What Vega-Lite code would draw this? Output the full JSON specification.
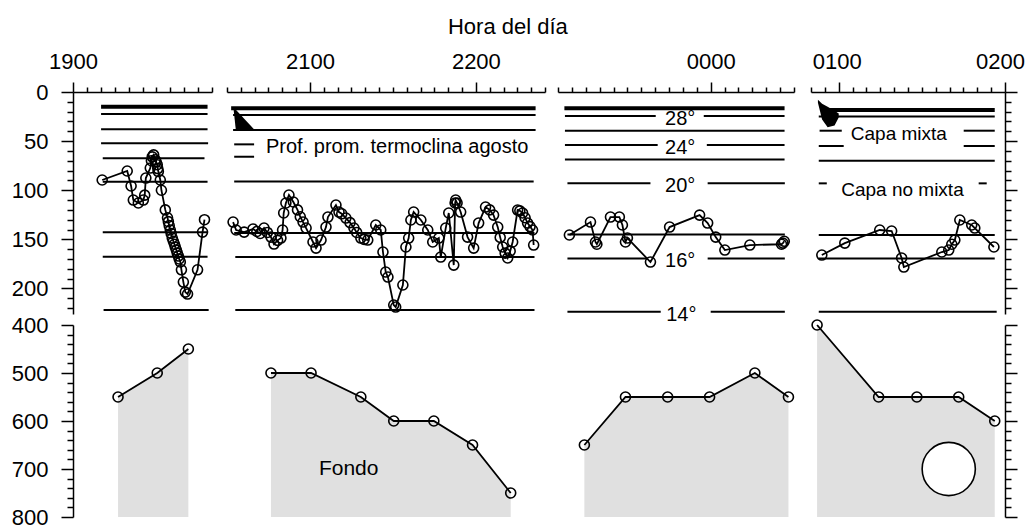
{
  "$schema": "https://vega.github.io/schema/vega-lite/v6.json",
  "background": "white",
  "padding": {"left": 11, "top": 16, "right": 5, "bottom": 5},
  "title": {"text": "Hora del día", "fontSize": 22, "font": "Liberation Sans", "fontWeight": "normal", "color": "black", "anchor": "middle", "offset": 11, "dx": -10},
  "datasets": {
    "iso": [
      {"p":1,"d":15,"t0":10.1,"t1":48.4,"k":"thick"},
      {"p":1,"d":22.4,"t0":10.1,"t1":48.4,"k":"thin"},
      {"p":1,"d":38,"t0":10.1,"t1":48.4,"k":"thin"},
      {"p":1,"d":52.2,"t0":10.1,"t1":48.6,"k":"thin"},
      {"p":1,"d":67.5,"t0":10.7,"t1":47.3,"k":"thin"},
      {"p":1,"d":91.3,"t0":10.7,"t1":48.4,"k":"thin"},
      {"p":1,"d":142.9,"t0":10.7,"t1":48.4,"k":"thin"},
      {"p":1,"d":167.7,"t0":10.7,"t1":48.4,"k":"thin"},
      {"p":1,"d":222,"t0":11,"t1":48.8,"k":"thin"},
      {"p":2,"d":16.6,"t0":91.5,"t1":201.6,"k":"thick"},
      {"p":2,"d":23.4,"t0":92.2,"t1":201.6,"k":"thin"},
      {"p":2,"d":38.7,"t0":92.2,"t1":201.6,"k":"thin"},
      {"p":2,"d":53.3,"t0":92.6,"t1":99.8,"k":"thin"},
      {"p":2,"d":65.9,"t0":92.6,"t1":99.8,"k":"thin"},
      {"p":2,"d":91,"t0":92.6,"t1":200.9,"k":"thin"},
      {"p":2,"d":143.6,"t0":92.6,"t1":201.2,"k":"thin"},
      {"p":2,"d":168,"t0":93,"t1":201.2,"k":"thin"},
      {"p":2,"d":222,"t0":93,"t1":201.2,"k":"thin"},
      {"p":3,"d":16.6,"t0":247.3,"t1":326.6,"k":"thick"},
      {"p":3,"d":24.4,"t0":247.5,"t1":280.2,"k":"thin"},
      {"p":3,"d":24.4,"t0":297.5,"t1":326.6,"k":"thin"},
      {"p":3,"d":39.4,"t0":247.5,"t1":326.6,"k":"thin"},
      {"p":3,"d":54,"t0":247.5,"t1":280.9,"k":"thin"},
      {"p":3,"d":54,"t0":298.6,"t1":326.6,"k":"thin"},
      {"p":3,"d":68.6,"t0":247.5,"t1":326.6,"k":"thin"},
      {"p":3,"d":93,"t0":248.4,"t1":278.3,"k":"thin"},
      {"p":3,"d":93,"t0":298.9,"t1":326.7,"k":"thin"},
      {"p":3,"d":145,"t0":248.4,"t1":326.7,"k":"thin"},
      {"p":3,"d":169.4,"t0":248.4,"t1":277.3,"k":"thin"},
      {"p":3,"d":169.4,"t0":298.9,"t1":326.7,"k":"thin"},
      {"p":3,"d":223.7,"t0":248.4,"t1":282,"k":"thin"},
      {"p":3,"d":223.7,"t0":300,"t1":326.7,"k":"thin"},
      {"p":4,"d":18.3,"t0":353.9,"t1":416.3,"k":"thick"},
      {"p":4,"d":25,"t0":352.8,"t1":416.3,"k":"thin"},
      {"p":4,"d":39.4,"t0":353.1,"t1":361.1,"k":"thin"},
      {"p":4,"d":39.4,"t0":405.1,"t1":416.3,"k":"thin"},
      {"p":4,"d":55,"t0":352.8,"t1":361.8,"k":"thin"},
      {"p":4,"d":55,"t0":405.1,"t1":416.3,"k":"thin"},
      {"p":4,"d":70,"t0":352.8,"t1":416.3,"k":"thin"},
      {"p":4,"d":93,"t0":352.8,"t1":355.7,"k":"thin"},
      {"p":4,"d":93,"t0":410.5,"t1":413.4,"k":"thin"},
      {"p":4,"d":145.6,"t0":352.8,"t1":416.3,"k":"thin"},
      {"p":4,"d":169.4,"t0":352.8,"t1":416.3,"k":"thin"},
      {"p":4,"d":223.7,"t0":352.8,"t1":417,"k":"thin"}
    ],
    "track": [
      {"p":1,"t":10.5,"d":89.6},{"p":1,"t":19.5,"d":80.4},{"p":1,"t":20.9,"d":95.7},{"p":1,"t":21.7,"d":110},
      {"p":1,"t":23.5,"d":113},{"p":1,"t":25.3,"d":110},{"p":1,"t":25.8,"d":105},{"p":1,"t":26.2,"d":87.6},
      {"p":1,"t":27.8,"d":77.4},{"p":1,"t":28.2,"d":70},{"p":1,"t":28.5,"d":66},{"p":1,"t":29,"d":64},
      {"p":1,"t":29.6,"d":69},{"p":1,"t":29.9,"d":71},{"p":1,"t":30.3,"d":74},{"p":1,"t":30.5,"d":78},
      {"p":1,"t":30.7,"d":81},{"p":1,"t":31.4,"d":89.6},{"p":1,"t":31.8,"d":100},{"p":1,"t":33.2,"d":120},
      {"p":1,"t":34,"d":128},{"p":1,"t":34.3,"d":132},{"p":1,"t":34.6,"d":136},{"p":1,"t":35,"d":140.5},
      {"p":1,"t":35.3,"d":144},{"p":1,"t":35.7,"d":148.7},{"p":1,"t":36.1,"d":152},{"p":1,"t":36.5,"d":155},
      {"p":1,"t":36.8,"d":158},{"p":1,"t":37.2,"d":161},{"p":1,"t":37.5,"d":164},{"p":1,"t":37.9,"d":167},
      {"p":1,"t":38.2,"d":170},{"p":1,"t":38.6,"d":173},{"p":1,"t":39,"d":181},{"p":1,"t":39.7,"d":193.5},
      {"p":1,"t":40.4,"d":203.7},{"p":1,"t":41.2,"d":205.7},{"p":1,"t":44.8,"d":181},{"p":1,"t":46.6,"d":142.6},
      {"p":1,"t":47.3,"d":130},
      {"p":2,"t":92.2,"d":132.4},{"p":2,"t":93.3,"d":140.5},{"p":2,"t":96.2,"d":142.6},{"p":2,"t":99.4,"d":139.5},
      {"p":2,"t":100.8,"d":142},{"p":2,"t":102,"d":144},{"p":2,"t":103.4,"d":138.5},{"p":2,"t":104.6,"d":143},
      {"p":2,"t":105.9,"d":147.7},{"p":2,"t":107,"d":154.8},{"p":2,"t":108.3,"d":151},{"p":2,"t":109.5,"d":148.7},
      {"p":2,"t":110.1,"d":140.5},{"p":2,"t":110.5,"d":123.2},{"p":2,"t":111.3,"d":113},{"p":2,"t":112.4,"d":104.9},
      {"p":2,"t":114,"d":112},{"p":2,"t":115.5,"d":120},{"p":2,"t":116.5,"d":127},{"p":2,"t":117.5,"d":132.4},
      {"p":2,"t":118.6,"d":138.5},{"p":2,"t":121.1,"d":152.7},{"p":2,"t":122.2,"d":158.9},{"p":2,"t":124,"d":150.7},
      {"p":2,"t":125.8,"d":137.5},{"p":2,"t":126.5,"d":127.3},{"p":2,"t":129.4,"d":115.1},{"p":2,"t":130.5,"d":122.2},
      {"p":2,"t":131.5,"d":124},{"p":2,"t":133,"d":128.3},{"p":2,"t":134.5,"d":133},{"p":2,"t":135.9,"d":138.5},
      {"p":2,"t":136.9,"d":143},{"p":2,"t":138.4,"d":148.7},{"p":2,"t":139.6,"d":150},{"p":2,"t":140.9,"d":150.7},
      {"p":2,"t":143.8,"d":135.4},{"p":2,"t":145.6,"d":140.5},{"p":2,"t":146.4,"d":162.9},{"p":2,"t":147.4,"d":183.3},
      {"p":2,"t":148.2,"d":188.4},{"p":2,"t":150.3,"d":216.9},{"p":2,"t":151,"d":218.9},{"p":2,"t":153.6,"d":196.5},
      {"p":2,"t":154.7,"d":157.8},{"p":2,"t":155.7,"d":148.7},{"p":2,"t":156.5,"d":130.3},{"p":2,"t":157.5,"d":122.2},
      {"p":2,"t":160.1,"d":130.3},{"p":2,"t":162.6,"d":140.5},{"p":2,"t":164.4,"d":152.7},{"p":2,"t":166.6,"d":148.7},
      {"p":2,"t":167.3,"d":168},{"p":2,"t":169.1,"d":138.5},{"p":2,"t":170.2,"d":123.2},{"p":2,"t":172,"d":176.2},
      {"p":2,"t":172.5,"d":113},{"p":2,"t":172.7,"d":110},{"p":2,"t":173.2,"d":113},{"p":2,"t":174.5,"d":122.2},
      {"p":2,"t":177,"d":147.7},{"p":2,"t":179.2,"d":158.9},{"p":2,"t":181,"d":133.4},{"p":2,"t":183.5,"d":117.1},
      {"p":2,"t":185,"d":120},{"p":2,"t":186.4,"d":125.3},{"p":2,"t":187.9,"d":137.5},{"p":2,"t":188.8,"d":148},
      {"p":2,"t":189.7,"d":157.8},{"p":2,"t":190.6,"d":164},{"p":2,"t":191.5,"d":169},{"p":2,"t":192.4,"d":162},
      {"p":2,"t":193.3,"d":152.7},{"p":2,"t":195.1,"d":120.2},{"p":2,"t":195.9,"d":121},{"p":2,"t":196.9,"d":123.2},
      {"p":2,"t":197.8,"d":128},{"p":2,"t":198.7,"d":133.4},{"p":2,"t":199.6,"d":137},{"p":2,"t":200.5,"d":140.5},
      {"p":2,"t":200.9,"d":155.8},
      {"p":3,"t":249.1,"d":145.6},{"p":3,"t":256.7,"d":132.4},{"p":3,"t":258.5,"d":152.7},{"p":3,"t":259,"d":155},
      {"p":3,"t":263.9,"d":127.3},{"p":3,"t":267.1,"d":127.3},{"p":3,"t":268.2,"d":135.4},{"p":3,"t":269.3,"d":152.7},
      {"p":3,"t":270,"d":148.7},{"p":3,"t":278.3,"d":173.1},{"p":3,"t":285.2,"d":137.5},{"p":3,"t":296,"d":125.3},
      {"p":3,"t":298.9,"d":133.4},{"p":3,"t":301.8,"d":147.7},{"p":3,"t":305.1,"d":160.9},{"p":3,"t":314.1,"d":155.8},
      {"p":3,"t":325.5,"d":155},{"p":3,"t":326,"d":153.8},{"p":3,"t":326.5,"d":152},
      {"p":4,"t":353.9,"d":166},{"p":4,"t":362.2,"d":153.8},{"p":4,"t":374.8,"d":140.5},{"p":4,"t":379.1,"d":141.5},
      {"p":4,"t":382.7,"d":169},{"p":4,"t":383.5,"d":178.2},{"p":4,"t":397.2,"d":162.9},{"p":4,"t":399.7,"d":160.9},
      {"p":4,"t":400.8,"d":155},{"p":4,"t":401.9,"d":150.7},{"p":4,"t":403.7,"d":130.3},{"p":4,"t":408,"d":135.4},
      {"p":4,"t":409.1,"d":138.5},{"p":4,"t":416,"d":157.8}
    ],
    "blob": [
      {"p":2,"t":92.4,"top":16,"bot":18},{"p":2,"t":93.2,"top":18,"bot":39},{"p":2,"t":99.6,"top":37.5,"bot":39.5},
      {"p":4,"t":352.5,"top":8,"bot":11},{"p":4,"t":354,"top":12,"bot":28},{"p":4,"t":356,"top":15,"bot":36},
      {"p":4,"t":358.5,"top":19,"bot":34},{"p":4,"t":360,"top":22,"bot":26}
    ],
    "bottom": [
      {"p":1,"t":16.2,"d":550},{"p":1,"t":30.3,"d":500},{"p":1,"t":41.5,"d":450},
      {"p":2,"t":105.9,"d":500},{"p":2,"t":120.4,"d":500},{"p":2,"t":138.4,"d":550},{"p":2,"t":150.3,"d":600},
      {"p":2,"t":164.8,"d":600},{"p":2,"t":178.8,"d":650},{"p":2,"t":192.6,"d":750},
      {"p":3,"t":254.5,"d":650},{"p":3,"t":269.3,"d":550},{"p":3,"t":284.5,"d":550},{"p":3,"t":299.6,"d":550},
      {"p":3,"t":315.9,"d":500},{"p":3,"t":328,"d":550},
      {"p":4,"t":352.2,"d":400},{"p":4,"t":374.4,"d":550},{"p":4,"t":388.2,"d":550},{"p":4,"t":403.3,"d":550},
      {"p":4,"t":416.3,"d":600}
    ],
    "templabels": [
      {"t":289,"d":24.4,"text":"28°"},{"t":289,"d":54,"text":"24°"},{"t":289,"d":93,"text":"20°"},
      {"t":289,"d":169.4,"text":"16°"},{"t":289.4,"d":223.7,"text":"14°"}
    ],
    "notes": [
      {"p":2,"t":104.1,"d":56,"text":"Prof. prom. termoclina agosto","a":"left"},
      {"p":4,"t":381.7,"d":43,"text":"Capa mixta","a":"center"},
      {"p":4,"t":383,"d":100,"text":"Capa no mixta","a":"center"}
    ],
    "fondo": [{"p":2,"t":134,"d":700,"text":"Fondo"}],
    "moon": [{"p":4,"t":399.7,"d":700}]
  },
  "spacing": 11,
  "hconcat": [
    {
      "spacing": 11,
      "bounds": "flush",
      "vconcat": [
        {
          "width": 139, "height": 222,
          "layer": [
            {"data": {"name": "iso"}, "transform": [{"filter": "datum.p == 1"}],
             "mark": {"type": "rule", "color": "black"},
             "encoding": {
               "x": {"field": "t0", "type": "quantitative", "scale": {"domain": [0, 50], "nice": false, "zero": false},
                     "axis": {"orient": "top", "values": [0,5,10,15,20,25,30,35,40,45,50], "tickCount": 200, "labelExpr": "datum.value % 60 == 0 ? format(((19 + datum.value/60) % 24) * 100, '04d') : ''", "tickSize": {"condition": {"test": "datum.value % 60 == 0", "value": 10}, "value": 5}, "labelPadding": 9, "labelFlush": false, "labelOverlap": false, "title": null}},
               "x2": {"field": "t1"},
               "y": {"field": "d", "type": "quantitative", "scale": {"domain": [0, 226], "reverse": true, "nice": false, "zero": false},
                     "axis": {"orient": "left", "values": [0,10,20,30,40,50,60,70,80,90,100,110,120,130,140,150,160,170,180,190,200,210,220], "tickCount": 200, "labelExpr": "datum.value % 50 == 0 ? datum.label : ''", "tickSize": {"condition": {"test": "datum.value % 50 == 0", "value": 12}, "value": 6}, "labelPadding": 13, "labelOverlap": false, "title": null}},
               "strokeWidth": {"field": "k", "type": "nominal", "scale": {"domain": ["thick", "thin"], "range": [4, 2]}, "legend": null}
             }},
            {"data": {"name": "track"}, "transform": [{"filter": "datum.p == 1"}],
             "mark": {"type": "line", "color": "black", "strokeWidth": 1.8},
             "encoding": {"x": {"field": "t", "type": "quantitative"}, "y": {"field": "d", "type": "quantitative"}}},
            {"data": {"name": "track"}, "transform": [{"filter": "datum.p == 1"}],
             "mark": {"type": "point", "shape": "circle", "filled": false, "stroke": "black", "strokeWidth": 1.6, "size": 100, "opacity": 1},
             "encoding": {"x": {"field": "t", "type": "quantitative"}, "y": {"field": "d", "type": "quantitative"}}}
          ]
        },
        {
          "width": 139, "height": 192,
          "layer": [
            {"data": {"name": "bottom"}, "transform": [{"filter": "datum.p == 1"}],
             "mark": {"type": "area", "color": "#e0e0e0"},
             "encoding": {
               "x": {"field": "t", "type": "quantitative", "scale": {"domain": [0, 50], "nice": false, "zero": false}, "axis": null},
               "y": {"field": "d", "type": "quantitative", "scale": {"domain": [400, 800], "reverse": true, "nice": false, "zero": false},
                     "axis": {"orient": "left", "values": [400,420,440,460,480,500,520,540,560,580,600,620,640,660,680,700,720,740,760,780,800], "tickCount": 200, "labelExpr": "datum.value % 100 == 0 ? datum.label : ''", "tickSize": {"condition": {"test": "datum.value % 100 == 0", "value": 12}, "value": 6}, "labelPadding": 13, "labelOverlap": false, "title": null}},
               "y2": {"datum": 800}
             }},
            {"data": {"name": "bottom"}, "transform": [{"filter": "datum.p == 1"}],
             "mark": {"type": "line", "color": "black", "strokeWidth": 1.8},
             "encoding": {"x": {"field": "t", "type": "quantitative"}, "y": {"field": "d", "type": "quantitative"}}},
            {"data": {"name": "bottom"}, "transform": [{"filter": "datum.p == 1"}],
             "mark": {"type": "point", "shape": "circle", "filled": false, "stroke": "black", "strokeWidth": 1.6, "size": 100, "opacity": 1},
             "encoding": {"x": {"field": "t", "type": "quantitative"}, "y": {"field": "d", "type": "quantitative"}}}
          ]
        }
      ]
    },
    {
      "spacing": 11,
      "bounds": "flush",
      "vconcat": [
        {
          "width": 318, "height": 222,
          "layer": [
            {"data": {"name": "iso"}, "transform": [{"filter": "datum.p == 2"}],
             "mark": {"type": "rule", "color": "black"},
             "encoding": {
               "x": {"field": "t0", "type": "quantitative", "scale": {"domain": [90, 205], "nice": false, "zero": false},
                     "axis": {"orient": "top", "values": [90,95,100,105,110,115,120,125,130,135,140,145,150,155,160,165,170,175,180,185,190,195,200,205], "tickCount": 200, "labelExpr": "datum.value % 60 == 0 ? format(((19 + datum.value/60) % 24) * 100, '04d') : ''", "tickSize": {"condition": {"test": "datum.value % 60 == 0", "value": 10}, "value": 5}, "labelPadding": 9, "labelFlush": false, "labelOverlap": false, "title": null}},
               "x2": {"field": "t1"},
               "y": {"field": "d", "type": "quantitative", "scale": {"domain": [0, 226], "reverse": true, "nice": false, "zero": false}, "axis": null},
               "strokeWidth": {"field": "k", "type": "nominal", "scale": {"domain": ["thick", "thin"], "range": [4, 2]}, "legend": null}
             }},
            {"data": {"name": "blob"}, "transform": [{"filter": "datum.p == 2"}],
             "mark": {"type": "area", "color": "black"},
             "encoding": {"x": {"field": "t", "type": "quantitative"}, "y": {"field": "top", "type": "quantitative"}, "y2": {"field": "bot"}}},
            {"data": {"name": "notes"}, "transform": [{"filter": "datum.p == 2"}],
             "mark": {"type": "text", "align": "left", "baseline": "middle", "fontSize": 20, "font": "Liberation Sans", "color": "black"},
             "encoding": {"x": {"field": "t", "type": "quantitative"}, "y": {"field": "d", "type": "quantitative"}, "text": {"field": "text"}}},
            {"data": {"name": "track"}, "transform": [{"filter": "datum.p == 2"}],
             "mark": {"type": "line", "color": "black", "strokeWidth": 1.8},
             "encoding": {"x": {"field": "t", "type": "quantitative"}, "y": {"field": "d", "type": "quantitative"}}},
            {"data": {"name": "track"}, "transform": [{"filter": "datum.p == 2"}],
             "mark": {"type": "point", "shape": "circle", "filled": false, "stroke": "black", "strokeWidth": 1.6, "size": 100, "opacity": 1},
             "encoding": {"x": {"field": "t", "type": "quantitative"}, "y": {"field": "d", "type": "quantitative"}}}
          ]
        },
        {
          "width": 318, "height": 192,
          "layer": [
            {"data": {"name": "bottom"}, "transform": [{"filter": "datum.p == 2"}],
             "mark": {"type": "area", "color": "#e0e0e0"},
             "encoding": {
               "x": {"field": "t", "type": "quantitative", "scale": {"domain": [90, 205], "nice": false, "zero": false}, "axis": null},
               "y": {"field": "d", "type": "quantitative", "scale": {"domain": [400, 800], "reverse": true, "nice": false, "zero": false}, "axis": null},
               "y2": {"datum": 800}
             }},
            {"data": {"name": "fondo"},
             "mark": {"type": "text", "align": "center", "baseline": "middle", "fontSize": 21, "font": "Liberation Sans", "color": "black"},
             "encoding": {"x": {"field": "t", "type": "quantitative"}, "y": {"field": "d", "type": "quantitative"}, "text": {"field": "text"}}},
            {"data": {"name": "bottom"}, "transform": [{"filter": "datum.p == 2"}],
             "mark": {"type": "line", "color": "black", "strokeWidth": 1.8},
             "encoding": {"x": {"field": "t", "type": "quantitative"}, "y": {"field": "d", "type": "quantitative"}}},
            {"data": {"name": "bottom"}, "transform": [{"filter": "datum.p == 2"}],
             "mark": {"type": "point", "shape": "circle", "filled": false, "stroke": "black", "strokeWidth": 1.6, "size": 100, "opacity": 1},
             "encoding": {"x": {"field": "t", "type": "quantitative"}, "y": {"field": "d", "type": "quantitative"}}}
          ]
        }
      ]
    },
    {
      "spacing": 11,
      "bounds": "flush",
      "vconcat": [
        {
          "width": 236, "height": 222,
          "layer": [
            {"data": {"name": "iso"}, "transform": [{"filter": "datum.p == 3"}],
             "mark": {"type": "rule", "color": "black"},
             "encoding": {
               "x": {"field": "t0", "type": "quantitative", "scale": {"domain": [245, 330], "nice": false, "zero": false},
                     "axis": {"orient": "top", "values": [245,250,255,260,265,270,275,280,285,290,295,300,305,310,315,320,325,330], "tickCount": 200, "labelExpr": "datum.value % 60 == 0 ? format(((19 + datum.value/60) % 24) * 100, '04d') : ''", "tickSize": {"condition": {"test": "datum.value % 60 == 0", "value": 10}, "value": 5}, "labelPadding": 9, "labelFlush": false, "labelOverlap": false, "title": null}},
               "x2": {"field": "t1"},
               "y": {"field": "d", "type": "quantitative", "scale": {"domain": [0, 226], "reverse": true, "nice": false, "zero": false}, "axis": null},
               "strokeWidth": {"field": "k", "type": "nominal", "scale": {"domain": ["thick", "thin"], "range": [4, 2]}, "legend": null}
             }},
            {"data": {"name": "templabels"},
             "mark": {"type": "text", "align": "center", "baseline": "middle", "dy": 3, "fontSize": 20, "font": "Liberation Sans", "color": "black"},
             "encoding": {"x": {"field": "t", "type": "quantitative"}, "y": {"field": "d", "type": "quantitative"}, "text": {"field": "text"}}},
            {"data": {"name": "track"}, "transform": [{"filter": "datum.p == 3"}],
             "mark": {"type": "line", "color": "black", "strokeWidth": 1.8},
             "encoding": {"x": {"field": "t", "type": "quantitative"}, "y": {"field": "d", "type": "quantitative"}}},
            {"data": {"name": "track"}, "transform": [{"filter": "datum.p == 3"}],
             "mark": {"type": "point", "shape": "circle", "filled": false, "stroke": "black", "strokeWidth": 1.6, "size": 100, "opacity": 1},
             "encoding": {"x": {"field": "t", "type": "quantitative"}, "y": {"field": "d", "type": "quantitative"}}}
          ]
        },
        {
          "width": 236, "height": 192,
          "layer": [
            {"data": {"name": "bottom"}, "transform": [{"filter": "datum.p == 3"}],
             "mark": {"type": "area", "color": "#e0e0e0"},
             "encoding": {
               "x": {"field": "t", "type": "quantitative", "scale": {"domain": [245, 330], "nice": false, "zero": false}, "axis": null},
               "y": {"field": "d", "type": "quantitative", "scale": {"domain": [400, 800], "reverse": true, "nice": false, "zero": false}, "axis": null},
               "y2": {"datum": 800}
             }},
            {"data": {"name": "bottom"}, "transform": [{"filter": "datum.p == 3"}],
             "mark": {"type": "line", "color": "black", "strokeWidth": 1.8},
             "encoding": {"x": {"field": "t", "type": "quantitative"}, "y": {"field": "d", "type": "quantitative"}}},
            {"data": {"name": "bottom"}, "transform": [{"filter": "datum.p == 3"}],
             "mark": {"type": "point", "shape": "circle", "filled": false, "stroke": "black", "strokeWidth": 1.6, "size": 100, "opacity": 1},
             "encoding": {"x": {"field": "t", "type": "quantitative"}, "y": {"field": "d", "type": "quantitative"}}}
          ]
        }
      ]
    },
    {
      "spacing": 11,
      "bounds": "flush",
      "vconcat": [
        {
          "width": 194, "height": 222,
          "layer": [
            {"data": {"name": "iso"}, "transform": [{"filter": "datum.p == 4"}],
             "mark": {"type": "rule", "color": "black"},
             "encoding": {
               "x": {"field": "t0", "type": "quantitative", "scale": {"domain": [350, 420], "nice": false, "zero": false},
                     "axis": {"orient": "top", "values": [350,355,360,365,370,375,380,385,390,395,400,405,410,415,420], "tickCount": 200, "labelExpr": "datum.value % 60 == 0 ? format(((19 + datum.value/60) % 24) * 100, '04d') : ''", "tickSize": {"condition": {"test": "datum.value % 60 == 0", "value": 10}, "value": 5}, "labelOffset": {"condition": {"test": "datum.value == 420", "value": -5}, "value": -2}, "labelPadding": 9, "labelFlush": false, "labelOverlap": false, "title": null}},
               "x2": {"field": "t1"},
               "y": {"field": "d", "type": "quantitative", "scale": {"domain": [0, 226], "reverse": true, "nice": false, "zero": false},
                     "axis": {"orient": "right", "labels": false, "values": [0,10,20,30,40,50,60,70,80,90,100,110,120,130,140,150,160,170,180,190,200,210,220], "tickCount": 200, "tickSize": {"condition": {"test": "datum.value % 50 == 0", "value": 12}, "value": 6}, "title": null}},
               "strokeWidth": {"field": "k", "type": "nominal", "scale": {"domain": ["thick", "thin"], "range": [4, 2]}, "legend": null}
             }},
            {"data": {"name": "blob"}, "transform": [{"filter": "datum.p == 4"}],
             "mark": {"type": "area", "color": "black"},
             "encoding": {"x": {"field": "t", "type": "quantitative"}, "y": {"field": "top", "type": "quantitative"}, "y2": {"field": "bot"}}},
            {"data": {"name": "notes"}, "transform": [{"filter": "datum.p == 4"}],
             "mark": {"type": "text", "align": "center", "baseline": "middle", "fontSize": 19, "font": "Liberation Sans", "color": "black"},
             "encoding": {"x": {"field": "t", "type": "quantitative"}, "y": {"field": "d", "type": "quantitative"}, "text": {"field": "text"}}},
            {"data": {"name": "track"}, "transform": [{"filter": "datum.p == 4"}],
             "mark": {"type": "line", "color": "black", "strokeWidth": 1.8},
             "encoding": {"x": {"field": "t", "type": "quantitative"}, "y": {"field": "d", "type": "quantitative"}}},
            {"data": {"name": "track"}, "transform": [{"filter": "datum.p == 4"}],
             "mark": {"type": "point", "shape": "circle", "filled": false, "stroke": "black", "strokeWidth": 1.6, "size": 100, "opacity": 1},
             "encoding": {"x": {"field": "t", "type": "quantitative"}, "y": {"field": "d", "type": "quantitative"}}}
          ]
        },
        {
          "width": 194, "height": 192,
          "layer": [
            {"data": {"name": "bottom"}, "transform": [{"filter": "datum.p == 4"}],
             "mark": {"type": "area", "color": "#e0e0e0"},
             "encoding": {
               "x": {"field": "t", "type": "quantitative", "scale": {"domain": [350, 420], "nice": false, "zero": false}, "axis": null},
               "y": {"field": "d", "type": "quantitative", "scale": {"domain": [400, 800], "reverse": true, "nice": false, "zero": false},
                     "axis": {"orient": "right", "labels": false, "values": [400,420,440,460,480,500,520,540,560,580,600,620,640,660,680,700,720,740,760,780,800], "tickCount": 200, "tickSize": {"condition": {"test": "datum.value % 100 == 0", "value": 12}, "value": 6}, "title": null}},
               "y2": {"datum": 800}
             }},
            {"data": {"name": "moon"},
             "mark": {"type": "point", "shape": "circle", "filled": true, "fill": "white", "stroke": "black", "strokeWidth": 1.6, "size": 2830, "opacity": 1},
             "encoding": {"x": {"field": "t", "type": "quantitative"}, "y": {"field": "d", "type": "quantitative"}}},
            {"data": {"name": "bottom"}, "transform": [{"filter": "datum.p == 4"}],
             "mark": {"type": "line", "color": "black", "strokeWidth": 1.8},
             "encoding": {"x": {"field": "t", "type": "quantitative"}, "y": {"field": "d", "type": "quantitative"}}},
            {"data": {"name": "bottom"}, "transform": [{"filter": "datum.p == 4"}],
             "mark": {"type": "point", "shape": "circle", "filled": false, "stroke": "black", "strokeWidth": 1.6, "size": 100, "opacity": 1},
             "encoding": {"x": {"field": "t", "type": "quantitative"}, "y": {"field": "d", "type": "quantitative"}}}
          ]
        }
      ]
    }
  ],
  "config": {
    "view": {"stroke": null},
    "font": "Liberation Sans",
    "axis": {"domainColor": "black", "domainWidth": 1.5, "tickColor": "black", "tickWidth": 1.5, "labelColor": "black", "labelFont": "Liberation Sans", "labelFontSize": 22, "grid": false}
  }
}
